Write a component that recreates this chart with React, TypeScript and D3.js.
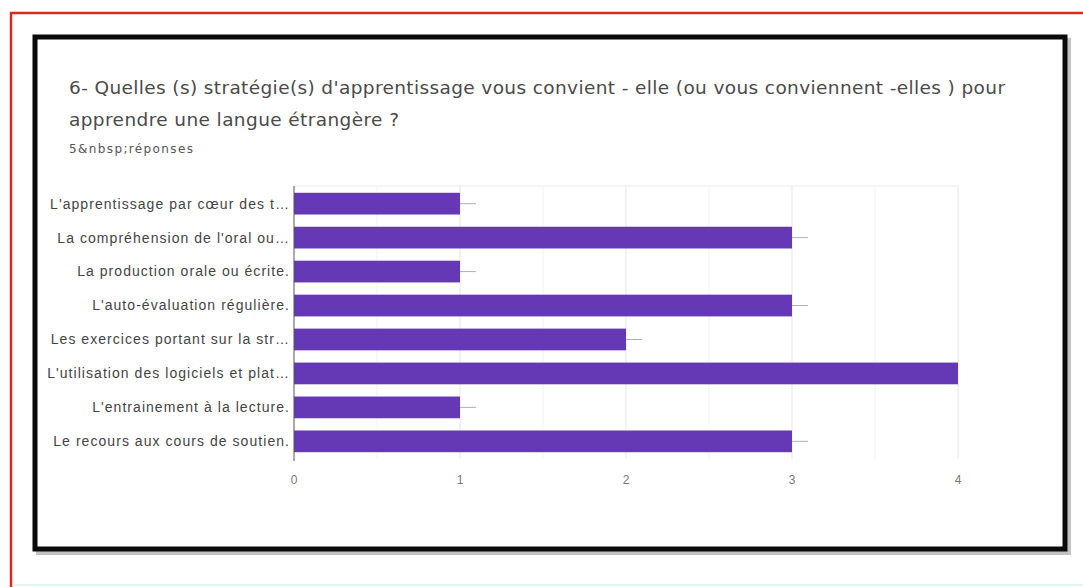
import * as d3 from "d3";

const categories = [
  "L'apprentissage par cœur des t…",
  "La compréhension de l'oral ou…",
  "La production orale ou écrite.",
  "L'auto-évaluation régulière.",
  "Les exercices portant sur la str…",
  "L'utilisation des logiciels et plat…",
  "L'entrainement à la lecture.",
  "Le recours aux cours de soutien.",
];
const counts = [1, 3, 1, 3, 2, 4, 1, 3];
const xTicks = [0, 1, 2, 3, 4];
const gridTicks = [0.5, 1, 1.5, 2, 2.5, 3, 3.5, 4];

const titleLines = [
  "6- Quelles (s) stratégie(s) d'apprentissage vous convient - elle (ou vous conviennent -elles ) pour",
  "apprendre une langue étrangère ?",
];
const titleWidths = [936, 330];
const subtitle = "5&nbsp;réponses";

const W = 1083;
const H = 587;
const plot = { left: 294, right: 958, top: 186, bottom: 459 };
const titleFont = "'DejaVu Sans', 'Open Sans', sans-serif";
const labelFont = "'Liberation Sans', Arial, sans-serif";

export default function App() {
  const x = d3.scaleLinear().domain([0, 4]).range([plot.left, plot.right]);
  const y = d3.scaleBand<string>().domain(categories).range([plot.top, plot.bottom]).paddingInner(0.36).paddingOuter(0.2);

  return (
    <svg width={W} height={H} style={{ position: "absolute", left: 0, top: 0, background: "#fff" }}>
      {/* outer page marks */}
      <line x1={10} y1={13} x2={W} y2={13} stroke="#e0261f" strokeWidth={2.5} />
      <line x1={11} y1={12} x2={11} y2={H} stroke="#e0261f" strokeWidth={2.5} />
      <line x1={14} y1={585} x2={W} y2={585} stroke="#d8f3f5" strokeWidth={1.5} />

      {/* card frame with shadow */}
      <rect x={38} y={40} width={1031} height={513} fill="none" stroke="#9a9a9a" strokeWidth={4} opacity={0.6} />
      <rect x={35} y={37} width={1030} height={512} fill="#fff" stroke="#0a0a0a" strokeWidth={5} />

      {titleLines.map((t, i) => (
        <text key={i} x={69} y={94 + i * 32} fontFamily={titleFont} fontSize={18.5} fill="#4a4a4a" textLength={titleWidths[i]} lengthAdjust="spacing">
          {t}
        </text>
      ))}
      <text x={69} y={153} fontFamily={titleFont} fontSize={12} fill="#555" textLength={124} lengthAdjust="spacing">
        {subtitle}
      </text>

      <g fontFamily={labelFont}>
        {/* grid */}
        <line x1={plot.left} y1={plot.top} x2={plot.right} y2={plot.top} stroke="#ececec" />
        {gridTicks.map((t) => (
          <line key={t} x1={x(t)} y1={plot.top} x2={x(t)} y2={plot.bottom} stroke={Number.isInteger(t) ? "#e6e6e6" : "#f3f3f3"} />
        ))}

        {/* bars */}
        {categories.map((c, i) => {
          const y0 = y(c) ?? 0;
          const cy = y0 + y.bandwidth() / 2;
          return (
            <g key={c}>
              <rect x={x(0)} y={y0} width={x(counts[i]) - x(0)} height={y.bandwidth()} fill="#6538b6" />
              {counts[i] < 4 ? (
                <line x1={x(counts[i])} y1={cy} x2={x(counts[i]) + 16} y2={cy} stroke="#b0b0b0" strokeWidth={1} />
              ) : null}
              <text x={plot.left - 4} y={cy} dy="0.35em" textAnchor="end" fontSize={14} letterSpacing={1.05} fill="#444">
                {c}
              </text>
            </g>
          );
        })}

        <line x1={plot.left} y1={plot.top} x2={plot.left} y2={plot.bottom + 2} stroke="#555" strokeWidth={1} />

        {xTicks.map((t) => (
          <text key={t} x={x(t)} y={484} textAnchor="middle" fontSize={12} fill="#777">
            {t}
          </text>
        ))}
      </g>
    </svg>
  );
}
